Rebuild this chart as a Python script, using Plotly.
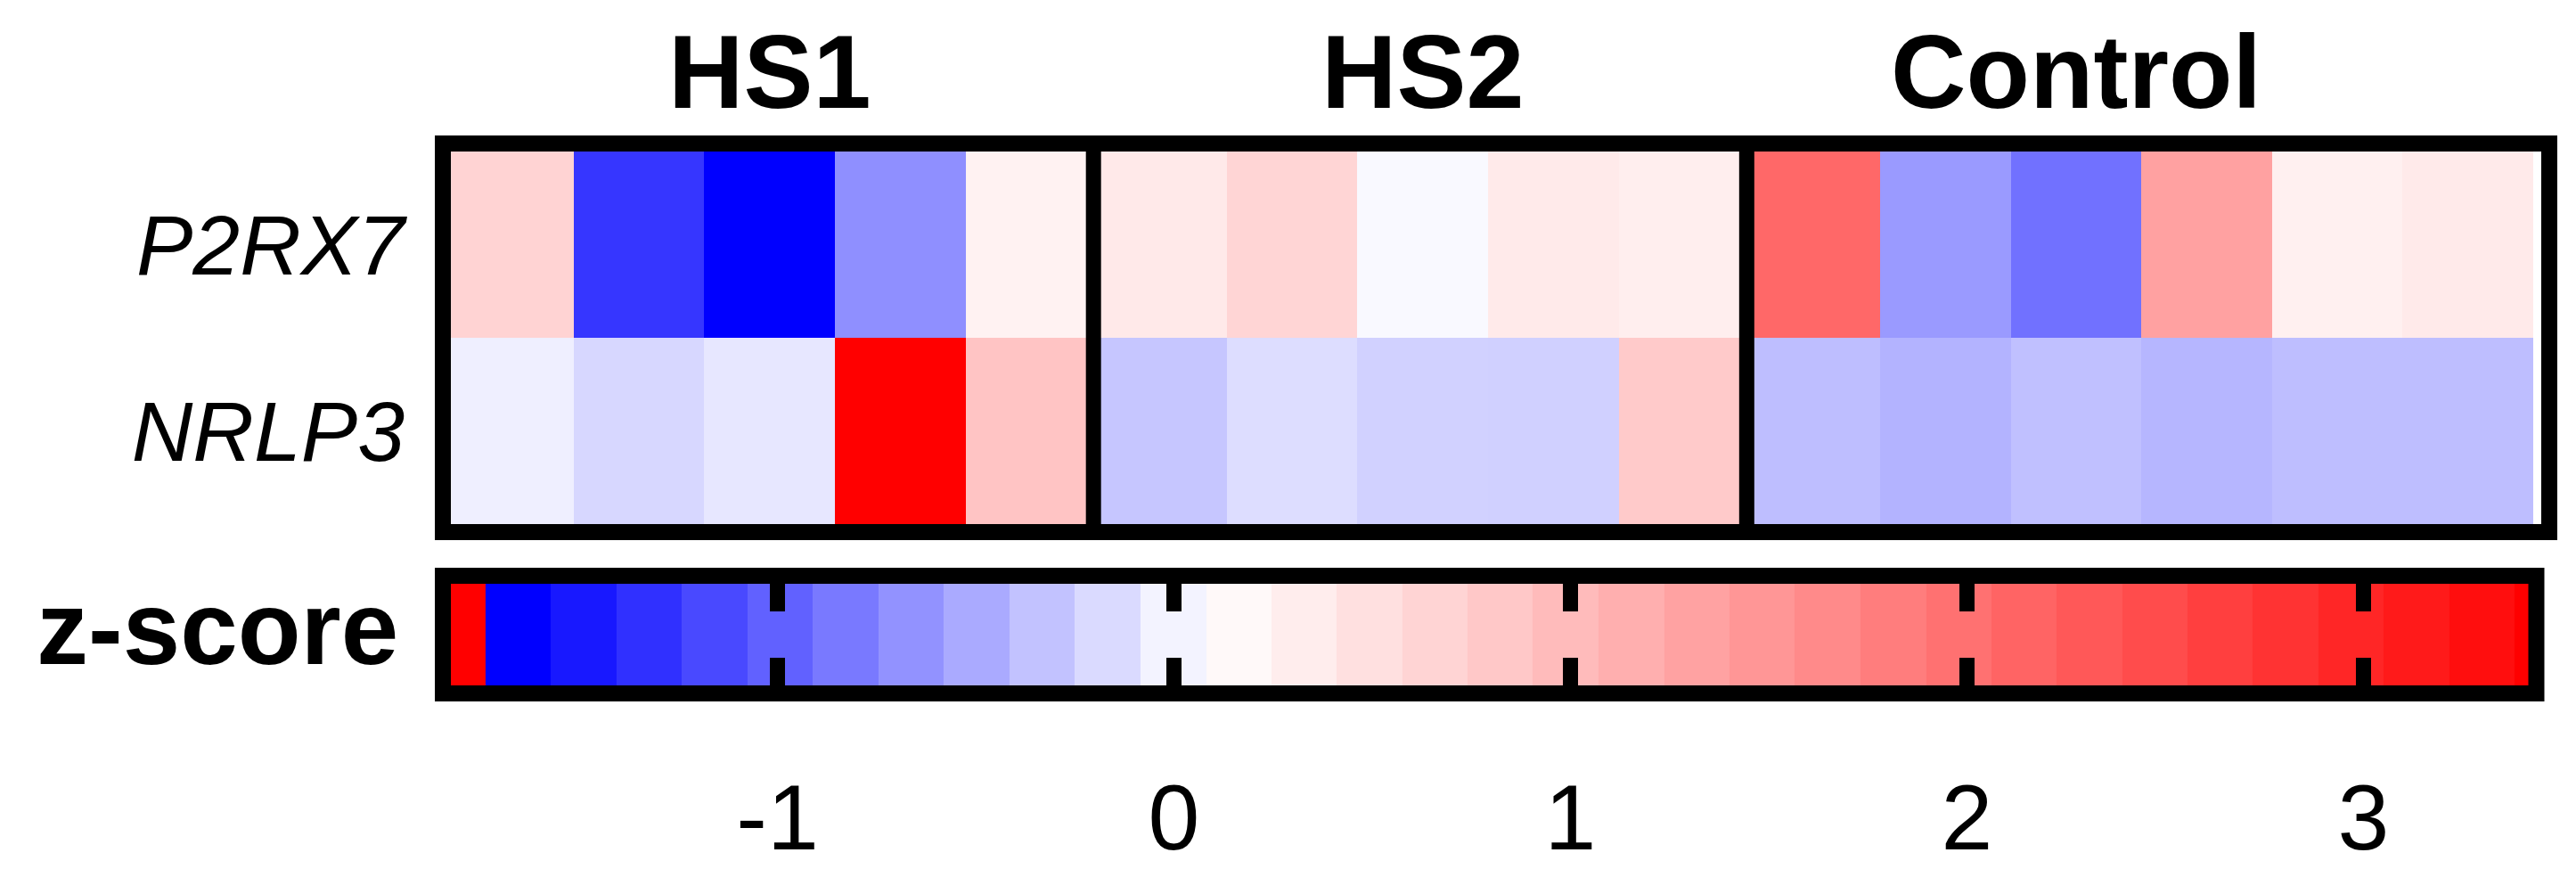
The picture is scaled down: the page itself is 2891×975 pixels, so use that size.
import plotly.graph_objects as go

# z-scores per sample, columns ordered HS1 (5) | HS2 (5) | Control (6)
groups = ["HS1", "HS2", "Control"]
group_sizes = [5, 5, 6]
genes = ["P2RX7", "NRLP3"]

p2rx7 = [0.59, -1.37, -1.74, -0.76, 0.17,
         0.29, 0.56, -0.04, 0.28, 0.23,
         2.01, -0.69, -0.97, 1.25, 0.20, 0.28]
nrlp3 = [-0.11, -0.27, -0.16, 3.40, 0.79,
         -0.39, -0.23, -0.31, -0.32, 0.71,
         -0.44, -0.52, -0.43, -0.50, -0.44, -0.44]

# colour key: stepped bands (edges in z units) and the value each band shows
key_edges = [-1.844, -1.736, -1.572, -1.406, -1.242, -1.075, -0.911, -0.745,
             -0.581, -0.415, -0.251, -0.084, 0.081, 0.245, 0.410, 0.576,
             0.740, 0.904, 1.071, 1.236, 1.401, 1.565, 1.731, 1.897, 2.062,
             2.226, 2.391, 2.556, 2.720, 2.887, 3.051, 3.216, 3.381, 3.428]
key_values = [3.40, -1.736, -1.572, -1.406, -1.242, -1.075, -0.911, -0.745,
              -0.581, -0.415, -0.251, -0.084, 0.081, 0.245, 0.410, 0.576,
              0.740, 0.904, 1.071, 1.236, 1.401, 1.565, 1.731, 1.897, 2.062,
              2.226, 2.391, 2.556, 2.720, 2.887, 3.051, 3.216, 3.40]
key_ticks = [-1, 0, 1, 2, 3]
key_ticktext = ["-1", "0", "1", "2", "3"]

Z_MIN, Z_MAX = -1.736, 3.40
W, H = 2891, 975
FONT = "Liberation Sans, Arial, sans-serif"

colorscale = [[0, "#0000FF"], [-Z_MIN / (Z_MAX - Z_MIN), "#FFFFFF"], [1, "#FF0000"]]


def px_x(p):
    return p / W


def px_y(p):
    return 1 - p / H


n_cols = sum(group_sizes)
cols = list(range(n_cols))

fig = go.Figure()
fig.add_trace(go.Heatmap(
    z=[p2rx7, nrlp3], x=cols, y=genes,
    colorscale=colorscale, zmin=Z_MIN, zmax=Z_MAX, showscale=False,
    xaxis="x", yaxis="y", hoverinfo="skip",
))
fig.add_trace(go.Heatmap(
    z=[key_values], x=key_edges, y=[0],
    colorscale=colorscale, zmin=Z_MIN, zmax=Z_MAX, showscale=False,
    xaxis="x2", yaxis="y2", hoverinfo="skip",
))

x_dom = [px_x(489), px_x(2835)]
fig.update_layout(
    width=W, height=H,
    margin=dict(l=0, r=0, t=0, b=0),
    paper_bgcolor="white", plot_bgcolor="white",
    showlegend=False,
    xaxis=dict(domain=x_dom, anchor="y", range=[-0.5, n_cols - 0.5],
               showticklabels=False, ticks="", showgrid=False, zeroline=False),
    yaxis=dict(domain=[px_y(580), px_y(162)], anchor="x", autorange="reversed",
               ticks="", showgrid=False, zeroline=False, ticklabelstandoff=42,
               tickfont=dict(family=FONT, size=95, color="black", style="italic")),
    xaxis2=dict(domain=x_dom, anchor="y2", range=[-1.8438, 3.4281],
                tickvals=key_ticks, ticktext=key_ticktext,
                ticks="inside", ticklen=31, tickwidth=17, tickcolor="black",
                mirror="ticks", showline=False, showgrid=False, zeroline=False,
                ticklabelstandoff=79,
                tickfont=dict(family=FONT, size=104, color="black")),
    yaxis2=dict(domain=[px_y(761), px_y(647)], anchor="x2", range=[-0.5, 0.5],
                showticklabels=False, ticks="", showgrid=False, zeroline=False),
)

# frames around the heatmap and the key, group separators
fig.add_shape(type="rect", xref="x domain", yref="y domain",
              x0=0, x1=(2853 - 489) / 2346, y0=-9 / 418, y1=1 + 9 / 418,
              line=dict(color="black", width=18), layer="above")
fig.add_shape(type="rect", xref="x2 domain", yref="y2 domain",
              x0=0, x1=(2838.5 - 489) / 2346, y0=-9 / 114, y1=1 + 9 / 114,
              line=dict(color="black", width=18), layer="above")
start = 0
for i, (g, n) in enumerate(zip(groups, group_sizes)):
    if i > 0:
        fig.add_shape(type="line", xref="x", yref="y domain",
                      x0=start - 0.52, x1=start - 0.52, y0=0, y1=1,
                      line=dict(color="black", width=17), layer="above")
    fig.add_annotation(x=start + 2, xref="x", y=px_y(72), yref="paper",
                       text=g, showarrow=False, xanchor="center", yanchor="middle",
                       font=dict(family=FONT, size=117, color="black", weight="bold"))
    start += n

fig.add_annotation(x=px_x(441), xref="paper", y=0.56, yref="y2 domain",
                   text="z-score", showarrow=False, xanchor="right", yanchor="middle",
                   font=dict(family=FONT, size=116, color="black", weight="bold"))

fig.write_html("out.html")
